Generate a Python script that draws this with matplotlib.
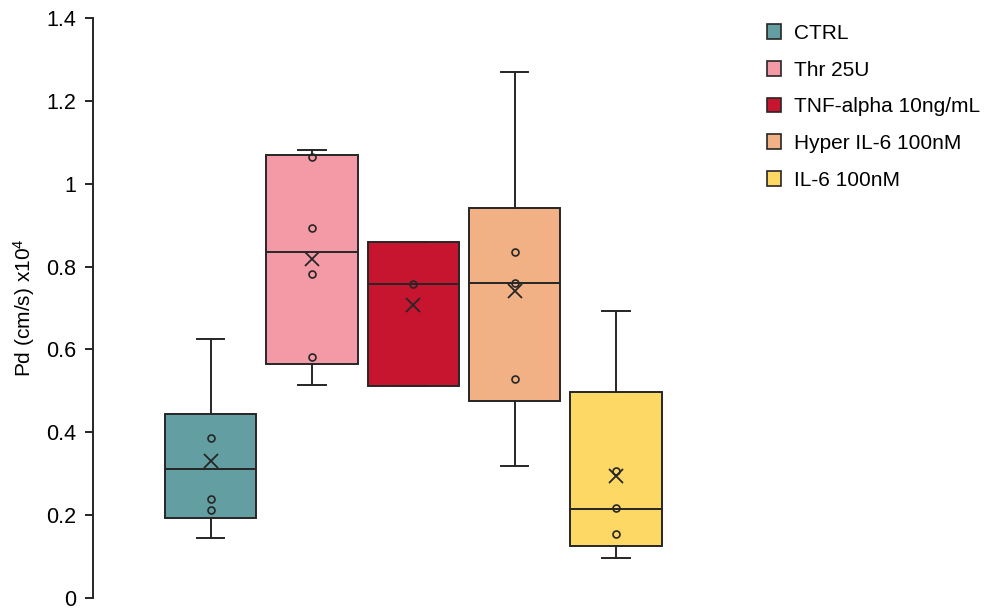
import matplotlib
matplotlib.use('Agg')
import matplotlib.pyplot as plt
from matplotlib.patches import Patch

plt.rcParams['font.family'] = ['Liberation Sans', 'DejaVu Sans']
plt.rcParams['mathtext.default'] = 'regular'

# values (Pd x10^4, cm/s)
groups = ['CTRL', 'Thr 25U', 'TNF-alpha 10ng/mL', 'Hyper IL-6 100nM', 'IL-6 100nM']
colors = ['#639FA2', '#F39AA6', '#C8152F', '#F1B185', '#FDD865']
whisk_lo = [0.145, 0.513, 0.511, 0.318, 0.096]
q1 = [0.194, 0.564, 0.511, 0.475, 0.125]
median = [0.311, 0.836, 0.759, 0.761, 0.214]
q3 = [0.444, 1.070, 0.858, 0.942, 0.496]
whisk_hi = [0.624, 1.082, 0.858, 1.270, 0.692]
means = [0.330, 0.817, 0.706, 0.742, 0.294]
inner_points = [
    [0.386, 0.239, 0.212],
    [1.065, 0.892, 0.783, 0.581],
    [0.759],
    [0.834, 0.761, 0.528],
    [0.306, 0.217, 0.154],
]

edge = '#262626'

fig = plt.figure(figsize=(9.9, 6.08), dpi=100)
ax = fig.add_axes([0.094, 0.0165, 0.647, 0.954])

stats = []
for i in range(len(groups)):
    stats.append({'whislo': whisk_lo[i], 'q1': q1[i], 'med': median[i],
                  'q3': q3[i], 'whishi': whisk_hi[i], 'mean': means[i],
                  'fliers': []})

pos = list(range(len(groups)))
bp = ax.bxp(stats, positions=pos, widths=0.9, patch_artist=True,
            showmeans=False, showfliers=False, capwidths=0.27,
            boxprops=dict(edgecolor=edge, linewidth=1.4),
            medianprops=dict(color=edge, linewidth=1.4),
            whiskerprops=dict(color=edge, linewidth=1.4),
            capprops=dict(color=edge, linewidth=1.4))
for box, c in zip(bp['boxes'], colors):
    box.set_facecolor(c)

# inner points and mean markers
for i in range(len(groups)):
    ax.plot([pos[i]] * len(inner_points[i]), inner_points[i], 'o',
            markersize=5, markerfacecolor='none', markeredgecolor=edge,
            markeredgewidth=1.2, zorder=4)
    ax.plot(pos[i], means[i], 'x', markersize=10, color=edge,
            markeredgewidth=1.3, zorder=5)

ax.set_xlim(-1.16, 5.16)
ax.set_ylim(0, 1.4)
ax.set_yticks([0, 0.2, 0.4, 0.6, 0.8, 1.0, 1.2, 1.4])
ax.set_yticklabels(['0', '0.2', '0.4', '0.6', '0.8', '1', '1.2', '1.4'])
ax.set_xticks([])
for s in ['top', 'right', 'bottom']:
    ax.spines[s].set_visible(False)
ax.spines['left'].set_linewidth(1.4)
ax.spines['left'].set_color(edge)
ax.tick_params(axis='y', length=6, width=1.4, color=edge, labelsize=15.5, pad=6)
ax.set_ylabel('Pd (cm/s) x10$^4$', fontsize=15, labelpad=7)

handles = [Patch(facecolor=c, edgecolor=edge, linewidth=1.2) for c in colors]
fig.legend(handles, groups, loc='upper left', bbox_to_anchor=(0.764, 0.978),
           frameon=False, fontsize=15, handlelength=0.7, handleheight=0.7,
           handletextpad=0.6, labelspacing=0.85, borderpad=0)

fig.savefig('out.png', dpi=100)
